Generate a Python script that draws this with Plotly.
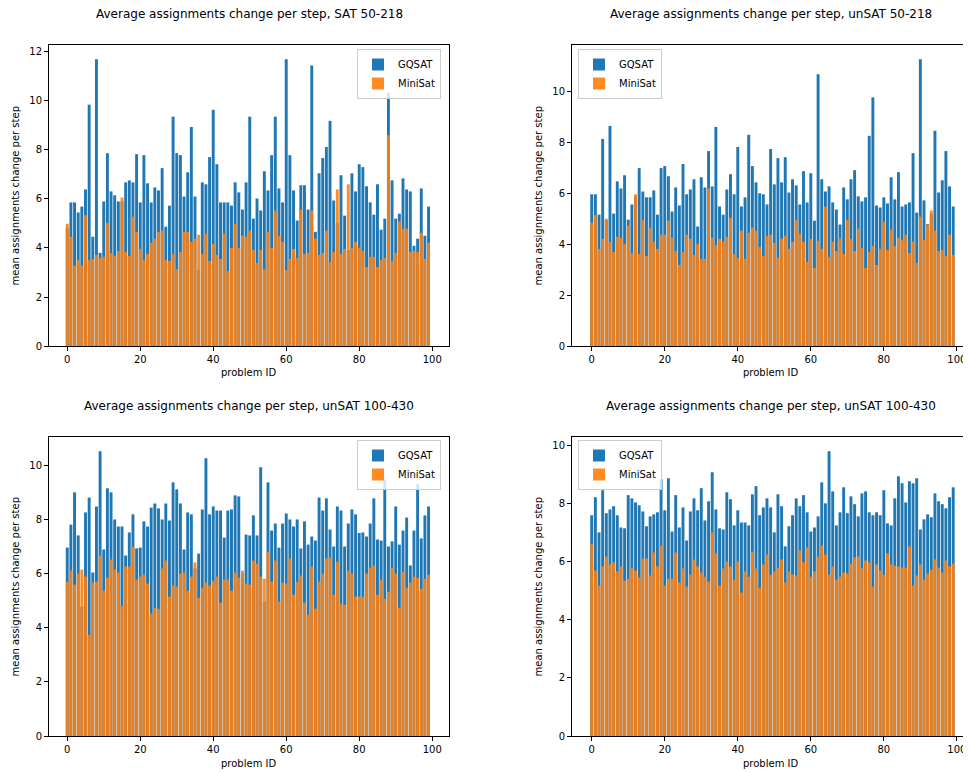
import plotly.graph_objects as go

problem_ids = list(range(100))
x_ticks = [0, 20, 40, 60, 80, 100]

titles = [
    "Average assignments change per step, SAT 50-218",
    "Average assignments change per step, unSAT 50-218",
    "Average assignments change per step, unSAT 100-430",
    "Average assignments change per step, unSAT 100-430",
]

sat50_gqsat = [4.83, 5.86, 5.86, 5.45, 5.69, 6.39, 9.85, 4.46, 11.70, 3.80,
               5.90, 7.87, 6.31, 6.15, 5.90, 5.90, 6.68, 6.76, 6.68, 7.83,
               5.86, 7.79, 6.64, 5.86, 6.47, 6.35, 7.26, 4.87, 5.73, 9.36,
               7.87, 7.79, 6.10, 7.09, 8.94, 6.10, 3.10, 6.68, 6.60, 7.71,
               9.64, 7.42, 5.86, 5.86, 5.86, 5.73, 6.68, 6.27, 5.57, 6.68,
               9.36, 5.20, 6.02, 5.53, 7.13, 6.35, 7.79, 9.36, 6.43, 5.86,
               11.70, 7.79, 6.35, 5.12, 6.56, 6.56, 5.57, 11.45, 4.66, 7.05,
               7.67, 8.12, 9.19, 5.94, 5.03, 6.97, 5.32, 3.92, 7.05, 6.31,
               7.42, 7.30, 6.52, 5.86, 5.36, 6.60, 4.75, 5.20, 10.34, 6.76,
               5.20, 5.40, 6.84, 6.39, 6.31, 4.09, 4.38, 6.43, 4.50, 5.69]
sat50_minisat = [4.99, 4.46, 3.28, 3.51, 3.28, 5.34, 3.51, 3.55, 3.72, 3.59,
                 3.64, 5.03, 3.80, 3.68, 3.88, 6.06, 3.84, 3.68, 5.28, 4.66,
                 3.96, 3.51, 3.76, 4.21, 4.38, 4.66, 4.71, 3.51, 3.47, 3.76,
                 3.14, 3.84, 4.66, 4.66, 4.25, 4.38, 4.54, 3.76, 4.58, 3.47,
                 4.17, 3.72, 3.55, 4.58, 3.06, 4.01, 4.99, 4.01, 4.50, 4.46,
                 4.71, 3.92, 3.39, 3.92, 3.14, 4.66, 4.01, 5.53, 4.50, 4.25,
                 3.10, 3.55, 3.96, 3.59, 5.57, 3.76, 3.80, 5.53, 4.38, 3.72,
                 3.80, 4.71, 3.43, 3.84, 6.39, 3.76, 3.96, 6.60, 4.01, 4.25,
                 4.01, 3.88, 3.22, 3.64, 3.64, 3.22, 3.51, 3.59, 8.61, 3.47,
                 3.80, 5.08, 4.79, 4.79, 3.84, 3.88, 3.84, 4.62, 3.55, 4.21]

unsat50_gqsat = [5.97, 5.97, 5.17, 8.15, 4.95, 8.66, 5.21, 6.48, 6.20, 6.72,
                 4.97, 5.57, 5.90, 7.00, 6.08, 5.85, 5.85, 6.12, 5.17, 7.00,
                 7.08, 6.68, 5.29, 6.24, 5.53, 7.16, 5.97, 6.16, 6.56, 4.70,
                 6.64, 6.24, 7.67, 6.28, 8.62, 5.49, 5.17, 6.16, 6.76, 5.97,
                 7.83, 5.49, 5.85, 8.31, 7.08, 6.44, 6.01, 5.97, 5.57, 7.75,
                 6.36, 7.39, 6.44, 7.43, 6.04, 6.56, 6.32, 5.57, 6.88, 5.65,
                 6.80, 4.93, 10.69, 6.56, 6.08, 6.28, 5.65, 5.37, 4.78, 6.24,
                 5.77, 6.56, 6.92, 5.89, 5.69, 5.85, 8.27, 9.78, 5.53, 5.45,
                 5.85, 5.61, 6.64, 5.77, 6.84, 5.49, 5.57, 5.65, 7.59, 5.25,
                 11.28, 5.73, 4.80, 5.20, 8.47, 6.04, 6.52, 7.67, 6.28, 5.49]
unsat50_minisat = [4.85, 5.15, 3.82, 4.22, 5.01, 4.10, 3.70, 4.30, 4.26, 4.02,
                   4.74, 3.66, 5.97, 3.62, 4.97, 3.54, 4.66, 4.10, 3.82, 4.38,
                   4.38, 4.93, 4.26, 3.74, 3.19, 3.70, 4.38, 4.22, 3.58, 4.02,
                   3.43, 3.43, 6.20, 4.26, 3.98, 4.22, 4.10, 4.30, 5.05, 3.62,
                   3.47, 4.54, 3.43, 4.46, 4.66, 4.54, 3.90, 3.54, 4.34, 4.38,
                   4.06, 3.47, 4.22, 4.34, 3.82, 4.10, 4.97, 4.42, 4.10, 3.31,
                   4.22, 3.07, 4.14, 3.82, 5.49, 3.51, 4.10, 3.74, 4.22, 3.62,
                   4.97, 4.22, 3.74, 4.62, 3.86, 3.07, 3.70, 3.94, 3.19, 3.82,
                   4.89, 3.78, 4.58, 3.94, 4.26, 4.18, 4.38, 3.66, 4.10, 3.27,
                   5.09, 4.18, 4.78, 5.33, 4.54, 3.74, 3.78, 3.54, 4.38, 3.58]

unsat100a_gqsat = [6.96, 7.81, 9.00, 7.41, 4.78, 8.26, 8.81, 6.04, 8.48, 10.52,
                   6.89, 9.15, 9.00, 8.00, 7.74, 7.74, 6.67, 7.52, 8.19, 6.93,
                   6.96, 7.93, 7.74, 8.44, 8.59, 8.41, 8.00, 8.59, 7.96, 9.37,
                   9.11, 8.59, 6.89, 8.26, 8.19, 6.19, 6.74, 8.37, 10.26, 8.19,
                   8.48, 8.33, 8.33, 7.33, 8.33, 8.37, 8.89, 8.85, 6.00, 7.44,
                   7.41, 8.15, 7.41, 9.93, 4.96, 9.37, 7.59, 7.85, 6.96, 7.85,
                   8.22, 8.00, 7.74, 8.00, 6.93, 7.93, 7.07, 7.37, 7.22, 8.81,
                   8.33, 8.78, 7.63, 7.00, 8.48, 8.33, 7.00, 7.85, 8.37, 8.19,
                   7.50, 7.52, 7.37, 7.85, 8.78, 7.26, 7.22, 9.48, 7.00, 7.19,
                   8.48, 7.07, 7.59, 8.07, 6.30, 7.59, 9.30, 7.30, 8.15, 8.48]
unsat100a_minisat = [5.70, 6.11, 5.59, 6.00, 6.15, 5.89, 3.74, 5.67, 5.70, 6.67,
                     5.37, 5.85, 6.52, 6.15, 6.04, 4.81, 6.26, 6.26, 7.00, 5.78,
                     5.89, 5.96, 5.63, 4.52, 4.74, 4.70, 6.19, 6.48, 5.15, 5.56,
                     5.52, 6.00, 6.04, 5.37, 5.89, 6.41, 5.11, 5.48, 5.67, 5.56,
                     5.74, 5.89, 4.93, 5.78, 5.78, 5.37, 6.04, 5.85, 6.11, 5.63,
                     5.59, 6.48, 6.37, 5.89, 5.81, 6.81, 5.70, 6.48, 4.96, 5.67,
                     5.63, 6.56, 5.22, 5.70, 5.93, 4.93, 4.48, 6.26, 4.70, 5.70,
                     6.00, 6.56, 6.59, 5.22, 6.44, 4.89, 4.85, 6.11, 6.00, 5.15,
                     5.15, 5.15, 6.00, 6.22, 6.30, 5.22, 5.78, 5.07, 5.33, 6.22,
                     6.00, 4.74, 6.07, 5.48, 5.67, 5.89, 5.85, 5.44, 5.81, 5.96]

unsat100b_gqsat = [7.59, 8.21, 7.00, 8.45, 7.66, 7.79, 7.90, 7.59, 7.17, 7.14,
                   8.28, 8.17, 8.03, 7.93, 7.72, 7.21, 7.55, 7.62, 7.69, 8.83,
                   7.76, 8.86, 7.03, 8.28, 7.17, 7.86, 6.72, 7.72, 8.17, 7.76,
                   8.52, 7.41, 8.07, 9.07, 7.79, 7.14, 7.10, 8.38, 8.14, 7.24,
                   7.76, 7.34, 7.34, 7.24, 8.31, 8.59, 7.59, 7.86, 8.17, 7.86,
                   7.00, 8.31, 7.90, 6.52, 7.21, 7.59, 8.17, 7.90, 8.28, 7.69,
                   7.03, 7.17, 7.55, 8.72, 8.00, 9.79, 8.41, 7.24, 7.69, 8.55,
                   7.66, 8.24, 7.97, 7.55, 8.34, 8.41, 7.69, 7.59, 7.69, 7.59,
                   8.45, 7.31, 7.24, 8.17, 8.93, 8.69, 8.03, 8.76, 8.69, 8.86,
                   7.10, 7.45, 7.62, 7.52, 8.34, 8.07, 7.97, 7.83, 8.21, 8.55]
unsat100b_minisat = [6.59, 5.69, 5.17, 5.83, 6.17, 5.90, 5.97, 5.66, 5.83, 5.34,
                     5.41, 5.79, 5.69, 5.45, 6.10, 6.10, 5.52, 6.31, 5.83, 6.55,
                     5.17, 5.41, 5.41, 6.31, 5.28, 5.76, 5.14, 5.55, 6.07, 5.83,
                     5.62, 5.48, 5.31, 7.00, 6.28, 5.17, 5.76, 6.00, 5.83, 5.38,
                     6.00, 4.93, 5.66, 5.48, 6.34, 5.76, 5.10, 5.90, 6.24, 5.55,
                     5.66, 5.79, 6.07, 5.28, 5.66, 5.55, 5.52, 6.38, 5.97, 6.48,
                     5.48, 5.66, 6.17, 6.55, 6.24, 5.55, 5.83, 5.38, 5.48, 5.62,
                     5.59, 5.93, 6.14, 6.17, 5.79, 6.03, 5.97, 5.14, 5.90, 5.69,
                     5.55, 6.28, 5.90, 5.86, 5.83, 5.79, 5.79, 6.52, 5.17, 5.52,
                     5.90, 5.38, 5.59, 5.72, 6.07, 5.79, 5.62, 6.03, 5.83, 5.93]

panels = [
    (sat50_gqsat, sat50_minisat),
    (unsat50_gqsat, unsat50_minisat),
    (unsat100a_gqsat, unsat100a_minisat),
    (unsat100b_gqsat, unsat100b_minisat),
]

# the page body has an 8px margin, so the figure sits 8px in from the window corner
OFF = 8
W, H = 963, 764
BLUE = "#1f77b4"
ORANGE = "#ff7f0e"
FONT = "DejaVu Sans"

# pixel boxes in the window (left, right, top, bottom) and x ranges
boxes = [(49, 449, 45, 346), (572, 970, 45, 346), (49, 449, 437, 736), (572, 970, 437, 736)]
xranges = [[-5.0, 104.6], [-5.4, 103.6], [-5.0, 104.6], [-5.4, 103.6]]
legend_pos = [("right", 441, 49), ("left", 578, 49), ("right", 441, 440), ("left", 578, 440)]
ytick_sets = [list(range(0, 13, 2)), list(range(0, 11, 2)), list(range(0, 11, 2)), list(range(0, 11, 2))]
xlabel_y = [373, 373, 763, 763]


def px(v):
    return (v - OFF) / W


def py(v):
    return 1 - (v - OFF) / H


fig = go.Figure()
annotations = []
layout = dict(
    width=W, height=H, margin=dict(l=0, r=0, t=0, b=0, pad=0, autoexpand=False),
    paper_bgcolor="white", plot_bgcolor="white",
    barmode="overlay", font=dict(family=FONT, size=10, color="black"),
)

for k, (g, m) in enumerate(panels):
    sfx = "" if k == 0 else str(k + 1)
    leg = "legend" if k == 0 else "legend" + str(k + 1)
    xa, ya = "x" + sfx, "y" + sfx
    fig.add_trace(go.Bar(x=problem_ids, y=g, name="GQSAT", marker=dict(color=BLUE, line=dict(width=0)),
                         width=0.8, xaxis=xa, yaxis=ya, legend=leg))
    fig.add_trace(go.Bar(x=problem_ids, y=m, name="MiniSat", marker=dict(color=ORANGE, line=dict(width=0)),
                         opacity=0.9, width=0.8, xaxis=xa, yaxis=ya, legend=leg))
    l, r, t, b = boxes[k]
    ymax = max(max(g), max(m)) * 1.05
    axis_common = dict(showline=True, linecolor="black", linewidth=1, mirror=True,
                       ticks="outside", ticklen=4, tickwidth=1, tickcolor="black",
                       showgrid=False, zeroline=False, automargin=False,
                       tickfont=dict(family=FONT, size=10))
    layout["xaxis" + sfx] = dict(domain=[px(l), min(px(r), 1.0)], anchor=ya, range=xranges[k],
                                 tickvals=x_ticks, ticktext=[str(v) for v in x_ticks], **axis_common)
    layout["yaxis" + sfx] = dict(domain=[py(b), py(t)], anchor=xa, range=[0, ymax],
                                 tickvals=ytick_sets[k], ticktext=[str(v) for v in ytick_sets[k]], **axis_common)
    side, lx, ly = legend_pos[k]
    layout[leg] = dict(x=px(lx), xanchor=side, y=py(ly), yanchor="top",
                       bgcolor="rgba(255,255,255,0.8)", bordercolor="#cccccc", borderwidth=1,
                       font=dict(family=FONT, size=10), itemsizing="constant", tracegroupgap=0)
    cx = (px(l) + min(px(r), 1.0)) / 2
    annotations.append(dict(text=titles[k], x=cx, y=py(t - 31), xref="paper", yref="paper",
                            showarrow=False, xanchor="center", yanchor="middle",
                            font=dict(family=FONT, size=12)))
    annotations.append(dict(text="problem ID", x=cx, y=py(xlabel_y[k]), xref="paper", yref="paper",
                            showarrow=False, xanchor="center", yanchor="middle",
                            font=dict(family=FONT, size=10)))
    annotations.append(dict(text="mean assignments change per step", x=px(l - 34), y=py((t + b) / 2),
                            xref="paper", yref="paper", showarrow=False, textangle=-90,
                            xanchor="center", yanchor="middle", font=dict(family=FONT, size=10)))

layout["annotations"] = annotations
fig.update_layout(**layout)
fig.write_html("out.html")
